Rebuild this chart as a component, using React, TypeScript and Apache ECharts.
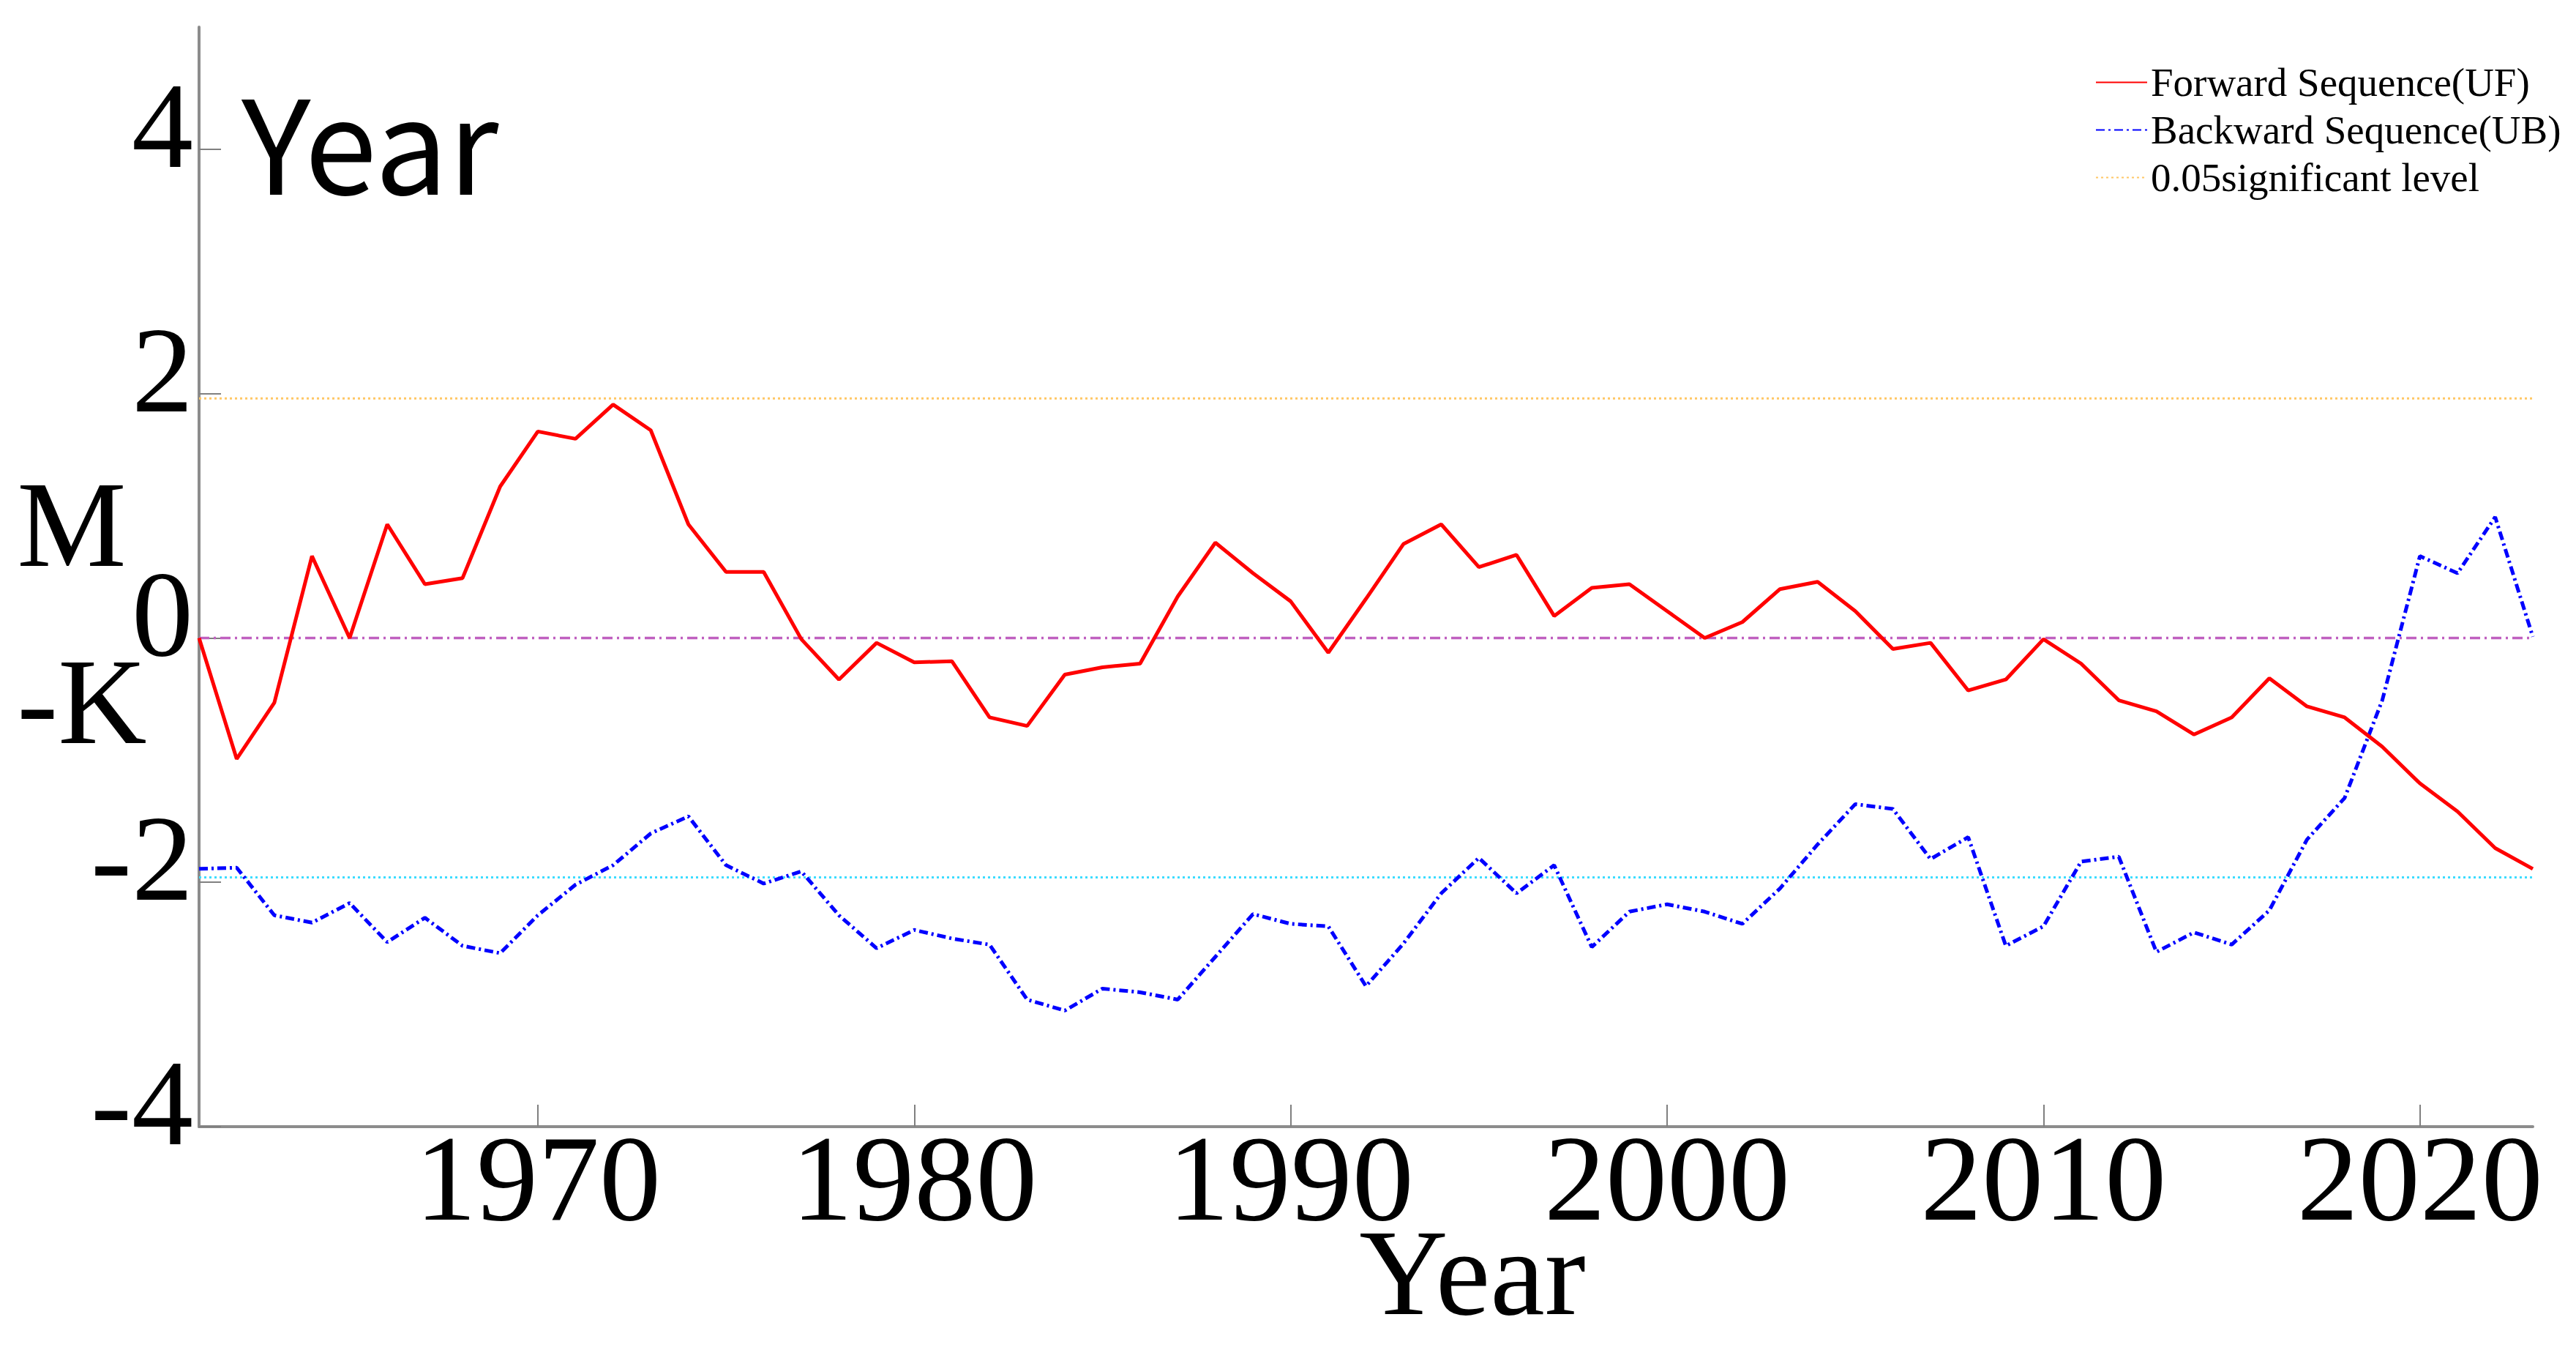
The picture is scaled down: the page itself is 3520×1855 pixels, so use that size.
import React, { useEffect, useRef } from 'react';
import * as echarts from 'echarts';

const years = [
  1961, 1962, 1963, 1964, 1965, 1966, 1967, 1968, 1969, 1970,
  1971, 1972, 1973, 1974, 1975, 1976, 1977, 1978, 1979, 1980,
  1981, 1982, 1983, 1984, 1985, 1986, 1987, 1988, 1989, 1990,
  1991, 1992, 1993, 1994, 1995, 1996, 1997, 1998, 1999, 2000,
  2001, 2002, 2003, 2004, 2005, 2006, 2007, 2008, 2009, 2010,
  2011, 2012, 2013, 2014, 2015, 2016, 2017, 2018, 2019, 2020,
  2021, 2022, 2023,
];

const ufValues = [
  0.0, -0.99, -0.53, 0.67, 0.0, 0.93, 0.44, 0.49, 1.24, 1.69,
  1.63, 1.91, 1.7, 0.93, 0.54, 0.54, -0.01, -0.34, -0.04, -0.2,
  -0.19, -0.65, -0.72, -0.3, -0.24, -0.21, 0.34, 0.78, 0.53, 0.3,
  -0.12, 0.32, 0.77, 0.93, 0.58, 0.68, 0.18, 0.41, 0.44, 0.22,
  0.0, 0.13, 0.4, 0.46, 0.22, -0.09, -0.04, -0.43, -0.34, -0.01,
  -0.21, -0.51, -0.6, -0.79, -0.65, -0.33, -0.56, -0.65, -0.89, -1.19,
  -1.42, -1.72, -1.89,
];

const ubValues = [
  -1.89, -1.88, -2.27, -2.33, -2.17, -2.49, -2.29, -2.52, -2.58, -2.27,
  -2.02, -1.86, -1.6, -1.46, -1.86, -2.01, -1.91, -2.27, -2.54, -2.39,
  -2.46, -2.51, -2.96, -3.05, -2.87, -2.9, -2.96, -2.61, -2.26, -2.34,
  -2.36, -2.85, -2.5, -2.09, -1.8, -2.09, -1.86, -2.53, -2.24, -2.18,
  -2.24, -2.34, -2.05, -1.69, -1.36, -1.4, -1.81, -1.63, -2.52, -2.36,
  -1.83, -1.79, -2.57, -2.41, -2.51, -2.23, -1.65, -1.31, -0.51, 0.67,
  0.53, 0.99, 0.01,
];

const sigLevel = 1.96;
const zeroLevel = 0;
const xTickValues = [1970, 1980, 1990, 2000, 2010, 2020];
const yTickValues = [-4, -2, 0, 2, 4];
const seriesNames = ['Forward Sequence(UF)', 'Backward Sequence(UB)', '0.05significant level'];

const SERIF = '"Liberation Serif", "Times New Roman", serif';

export default function App() {
  const ref = useRef<HTMLDivElement>(null);

  useEffect(() => {
    if (!ref.current) return;
    const chart = echarts.init(ref.current, undefined, { renderer: 'svg' });
    const first = years[0];
    const last = years[years.length - 1];
    const uf = years.map((y, i) => [y, ufValues[i]]);
    const ub = years.map((y, i) => [y, ubValues[i]]);
    const hLine = (v: number) => [[first, v], [last, v]];

    const option: any = {
      animation: false,
      backgroundColor: '#ffffff',
      grid: { left: 272, right: 59, top: 37, bottom: 316, containLabel: false },
      legend: {
        orient: 'vertical',
        left: 2858,
        top: 80,
        itemWidth: 70,
        itemHeight: 20,
        itemGap: 10,
        selectedMode: false,
        data: seriesNames,
        itemStyle: { opacity: 0 },
        textStyle: { fontFamily: SERIF, fontSize: 55, color: '#000' },
      },
      xAxis: {
        type: 'value',
        min: first,
        max: last,
        axisLine: { show: true, onZero: false, lineStyle: { color: '#8c8c8c', width: 4 } },
        axisTick: {
          show: true,
          inside: true,
          length: 30,
          customValues: xTickValues,
          lineStyle: { color: '#808080', width: 2 },
        },
        axisLabel: {
          customValues: xTickValues,
          formatter: (v: number) => String(v),
          fontFamily: SERIF,
          fontSize: 168,
          color: '#000',
          verticalAlign: 'middle',
          margin: 70,
        },
        splitLine: { show: false },
      },
      yAxis: {
        type: 'value',
        min: -4,
        max: 5,
        axisLine: { show: true, onZero: false, lineStyle: { color: '#8c8c8c', width: 4 } },
        axisTick: {
          show: true,
          inside: true,
          length: 30,
          customValues: yTickValues,
          lineStyle: { color: '#808080', width: 2 },
        },
        axisLabel: {
          customValues: yTickValues,
          fontFamily: SERIF,
          fontSize: 168,
          color: '#000',
          margin: 8,
          verticalAlign: 'bottom',
          lineHeight: 66,
        },
        splitLine: { show: false },
      },
      graphic: [
        {
          type: 'text',
          x: 2012,
          y: 1738,
          style: {
            text: 'Year',
            fontFamily: SERIF,
            fontSize: 168,
            fill: '#000',
            align: 'center',
            verticalAlign: 'middle',
          },
        },
        {
          type: 'text',
          x: 330,
          y: 188,
          style: {
            text: 'Year',
            fontFamily: '"Noto Sans CJK SC", "Open Sans", sans-serif',
            fontSize: 178,
            fill: '#000',
            align: 'left',
            verticalAlign: 'middle',
          },
        },
        {
          type: 'text',
          x: 98,
          y: 716,
          style: {
            text: 'M',
            fontFamily: SERIF,
            fontSize: 168,
            fill: '#000',
            align: 'center',
            verticalAlign: 'middle',
          },
        },
        {
          type: 'text',
          x: 112,
          y: 958,
          style: {
            text: '-K',
            fontFamily: SERIF,
            fontSize: 168,
            fill: '#000',
            align: 'center',
            verticalAlign: 'middle',
          },
        },
      ],
      series: [
        {
          name: '0.05significant level',
          type: 'line',
          data: hLine(sigLevel),
          symbol: 'none',
          color: '#FFC766',
          lineStyle: { color: '#FFC766', width: 3, type: [3, 4] },
          silent: true,
          z: 1,
        },
        {
          name: 'lower significant level',
          type: 'line',
          data: hLine(-sigLevel),
          symbol: 'none',
          color: '#3CDCFF',
          lineStyle: { color: '#3CDCFF', width: 3, type: [3, 4] },
          silent: true,
          z: 1,
        },
        {
          name: 'zero line',
          type: 'line',
          data: hLine(zeroLevel),
          symbol: 'none',
          color: '#C060C0',
          lineStyle: { color: '#C060C0', width: 3.5, type: [14, 6, 3, 6] },
          silent: true,
          z: 1,
        },
        {
          name: 'Backward Sequence(UB)',
          type: 'line',
          data: ub,
          symbol: 'none',
          color: '#0000FF',
          lineStyle: { color: '#0000FF', width: 5, type: [12, 5, 3, 5] },
          z: 2,
        },
        {
          name: 'Forward Sequence(UF)',
          type: 'line',
          data: uf,
          symbol: 'none',
          color: '#FF0000',
          lineStyle: { color: '#FF0000', width: 5 },
          z: 3,
        },
      ],
    };
    chart.setOption(option);
    return () => chart.dispose();
  }, []);

  return (
    <div
      ref={ref}
      style={{ position: 'fixed', left: 0, top: 0, width: 3520, height: 1855, background: '#fff' }}
    />
  );
}
